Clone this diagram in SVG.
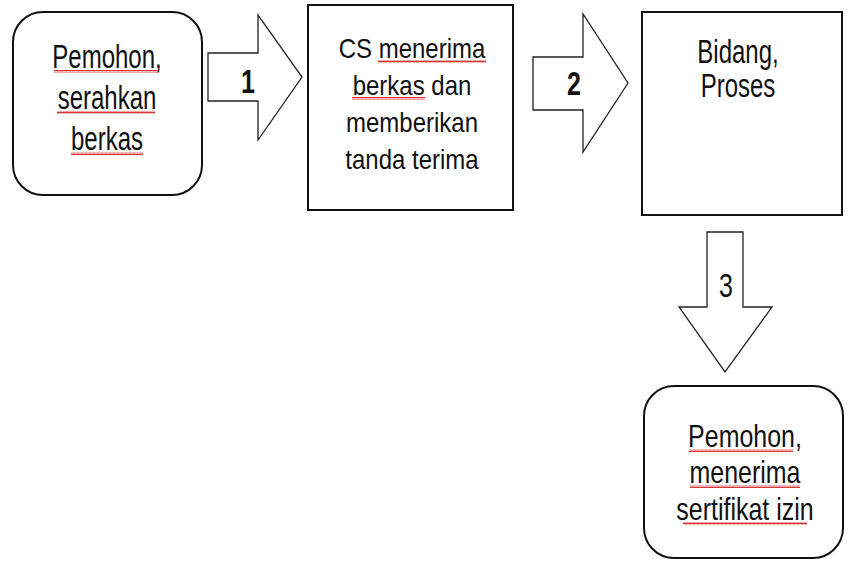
<svg xmlns="http://www.w3.org/2000/svg" width="850" height="561" viewBox="0 0 850 561">
  <style>
    .box { fill: #ffffff; stroke: #111111; stroke-width: 2; }
    .arrow { fill: #ffffff; stroke: #222222; stroke-width: 1.3; stroke-linejoin: miter; }
    .t { font-family: "Liberation Sans", Arial, sans-serif; font-size: 24px; fill: #111111; text-anchor: middle; }
    .num { font-family: "Liberation Sans", Arial, sans-serif; font-size: 25px; fill: #111111; text-anchor: middle; }
    .b { font-weight: bold; }
    .wave { fill: url(#wave); }
  </style>
  <defs>
    <pattern id="wave" width="4" height="3" patternUnits="userSpaceOnUse">
      <path d="M0,2.5 L1,0.5 L2,2.5 L3,0.5 L4,2.5" fill="none" stroke="#d42020" stroke-width="0.9"/>
    </pattern>
  </defs>
  <rect width="850" height="561" fill="#ffffff"/>

  <g id="connectors">
    <path class="arrow" d="M208,53 L258,53 L258,15 L302,77 L258,140 L258,101 L208,101 Z"/>
    <path class="arrow" d="M533,57 L583,57 L583,14 L628,83 L583,152 L583,110 L533,110 Z"/>
    <path class="arrow" d="M707,232 L743,232 L743,307 L772,307 L725,372 L679,307 L707,307 Z"/>
    <text class="num b" transform="translate(248,93) scale(1,1.35)">1</text>
    <text class="num b" transform="translate(574,95) scale(1,1.35)">2</text>
    <text class="num" transform="translate(726,297) scale(1,1.35)">3</text>
  </g>

  <g id="node-pemohon-serahkan">
    <rect class="box" x="13" y="12" width="189" height="183" rx="30" ry="30"/>
    <text class="t" transform="translate(107,68) scale(1,1.35)">Pemohon,</text>
    <text class="t" transform="translate(107,109) scale(1,1.35)">serahkan</text>
    <text class="t" transform="translate(107,150) scale(1,1.35)">berkas</text>
    <rect class="wave" x="54" y="70" width="104" height="3"/>
    <rect class="wave" x="57" y="111" width="98" height="3"/>
    <rect class="wave" x="71" y="152" width="72" height="3"/>
  </g>

  <g id="node-cs">
    <rect class="box" x="308" y="5" width="205" height="205"/>
    <text class="t" transform="translate(412,58) scale(1,1.18)">CS menerima</text>
    <text class="t" transform="translate(412,95) scale(1,1.18)">berkas dan</text>
    <text class="t" transform="translate(412,132) scale(1,1.18)">memberikan</text>
    <text class="t" transform="translate(412,169) scale(1,1.18)">tanda terima</text>
    <rect class="wave" x="378" y="60" width="108" height="3"/>
    <rect class="wave" x="352" y="97" width="73" height="3"/>
  </g>

  <g id="node-bidang">
    <rect class="box" x="642" y="12" width="200" height="203"/>
    <text class="t" transform="translate(738,63) scale(1,1.35)">Bidang,</text>
    <text class="t" transform="translate(738,97) scale(1,1.35)">Proses</text>
  </g>

  <g id="node-pemohon-menerima">
    <rect class="box" x="644" y="386" width="199" height="172" rx="30" ry="30"/>
    <text class="t" transform="translate(745,447) scale(1.04,1.3)">Pemohon,</text>
    <text class="t" transform="translate(745,483) scale(1.04,1.3)">menerima</text>
    <text class="t" transform="translate(745,520) scale(1.04,1.3)">sertifikat izin</text>
    <rect class="wave" x="689" y="449" width="104" height="3"/>
    <rect class="wave" x="690" y="485" width="110" height="3"/>
    <rect class="wave" x="683" y="522" width="124" height="3"/>
  </g>
</svg>
